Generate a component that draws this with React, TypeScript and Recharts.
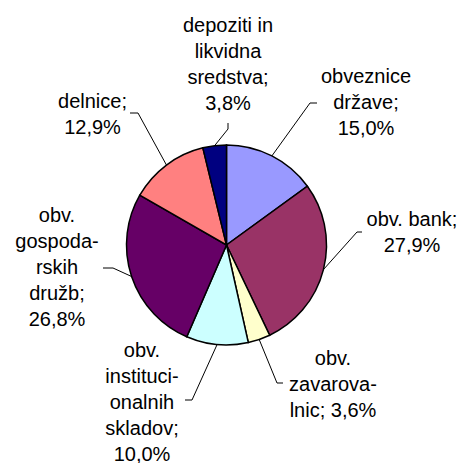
import { PieChart, Pie, Cell } from "recharts";

// naložbe po vrstah, delež v %
const categories = [
  "obveznice države",
  "obv. bank",
  "obv. zavarovalnic",
  "obv. institucionalnih skladov",
  "obv. gospodarskih družb",
  "delnice",
  "depoziti in likvidna sredstva",
];
const shares = [15.0, 27.9, 3.6, 10.0, 26.8, 12.9, 3.8];
const colors = ["#9999FF", "#993366", "#FFFFCC", "#CCFFFF", "#660066", "#FF8080", "#000080"];

// wrapped label text, {v} = formatted value
const labelLines = [
  ["obveznice", "države;", "{v}"],
  ["obv. bank;", "{v}"],
  ["obv.", "zavarova-", "lnic; {v}"],
  ["obv.", "instituci-", "onalnih", "skladov;", "{v}"],
  ["obv.", "gospoda-", "rskih", "družb;", "{v}"],
  ["delnice;", "{v}"],
  ["depoziti in", "likvidna", "sredstva;", "{v}"],
];

// label block centre and leader elbow/end, relative to pie centre
const labelLayout = [
  { tx: 139.5, ty: -143, ex: 83.5, ey: -142, fx: 90.5, fy: -142 },
  { tx: 185.5, ty: -13.5, ex: 130.5, ey: -13, fx: 135.5, fy: -13 },
  { tx: 106.5, ty: 139, ex: 50.5, ey: 138, fx: 56.5, fy: 138 },
  { tx: -84.5, ty: 156.5, ex: -34.5, ey: 155, fx: -41.5, fy: 155 },
  { tx: -169.5, ty: 21.5, ex: -113.5, ey: 23, fx: -123.5, fy: 23 },
  { tx: -134, ty: -131.5, ex: -88.5, ey: -132, fx: -96.5, fy: -132 },
  { tx: 1.5, ty: -181, ex: 1.5, ey: -116, fx: 1.5, fy: -122 },
];

const data = categories.map((name, i) => ({ name, value: shares[i] }));

const fmt = (v: number) => `${v.toFixed(1).replace(".", ",")}%`;
const RAD = Math.PI / 180;
const LINE_H = 26;

const renderLabel = (props: any) => {
  const { cx, cy, midAngle, outerRadius, index, value } = props;
  const lay = labelLayout[index];
  const sx = cx + outerRadius * Math.cos(-midAngle * RAD);
  const sy = cy + outerRadius * Math.sin(-midAngle * RAD);
  const lines = labelLines[index].map((l) => l.replace("{v}", fmt(value)));
  const n = lines.length;
  return (
    <g key={`lbl-${index}`}>
      <polyline
        points={`${sx},${sy} ${cx + lay.ex},${cy + lay.ey} ${cx + lay.fx},${cy + lay.fy}`}
        fill="none"
        stroke="#000"
        strokeWidth={1}
      />
      <text
        x={cx + lay.tx}
        y={cy + lay.ty}
        textAnchor="middle"
        fill="#000"
        fontSize={20}
        fontFamily="'Liberation Sans', Arial, sans-serif"
      >
        {lines.map((l, i) => (
          <tspan key={i} x={cx + lay.tx} y={cy + lay.ty + (i - (n - 1) / 2) * LINE_H} dominantBaseline="central">
            {l}
          </tspan>
        ))}
      </text>
    </g>
  );
};

export default function App() {
  return (
    <div style={{ position: "fixed", left: 0, top: 0, width: 462, height: 463, background: "#fff" }}>
      <PieChart width={462} height={463} margin={{ top: 0, right: 0, bottom: 0, left: 0 }}>
        <Pie
          data={data}
          dataKey="value"
          nameKey="name"
          cx={226.5}
          cy={245}
          outerRadius={100}
          startAngle={90}
          endAngle={-270}
          stroke="#000"
          strokeWidth={1.5}
          label={renderLabel}
          labelLine={false}
          isAnimationActive={false}
        >
          {data.map((d, i) => (
            <Cell key={d.name} fill={colors[i]} />
          ))}
        </Pie>
      </PieChart>
    </div>
  );
}
